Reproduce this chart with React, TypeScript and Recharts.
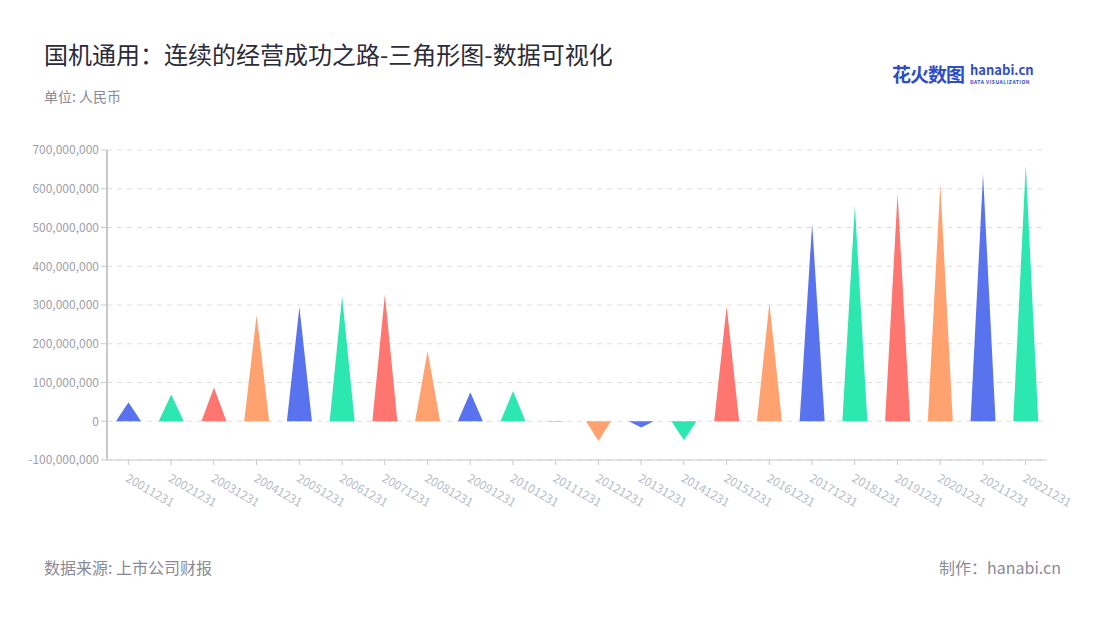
import { Bar, BarChart, CartesianGrid, Cell, XAxis, YAxis } from "recharts";

const years = [
  "20011231", "20021231", "20031231", "20041231", "20051231", "20061231",
  "20071231", "20081231", "20091231", "20101231", "20111231", "20121231",
  "20131231", "20141231", "20151231", "20161231", "20171231", "20181231",
  "20191231", "20201231", "20211231", "20221231",
];

const profit = [
  49000000, 69000000, 87000000, 275000000, 295000000, 322000000,
  327000000, 181000000, 75000000, 78000000, -1500000, -51000000,
  -16000000, -49000000, 297000000, 305000000, 510000000, 557000000,
  588000000, 612000000, 637000000, 661000000,
];

const yTicks = [-100000000, 0, 100000000, 200000000, 300000000, 400000000, 500000000, 600000000, 700000000];

const palette = ["#5973EE", "#2CE8B0", "#FF7670", "#FFA270"];

const data = years.map((d, i) => ({ d, v: profit[i] }));

const font = '"Noto Sans CJK SC", "Noto Sans", sans-serif';

const fmt = (n: number) => n.toLocaleString("en-US");

function Triangle(props: any) {
  const { x, y, width, height, fill, payload } = props;
  if (height == null || width == null) return null;
  const a = y;
  const b = y + height;
  const neg = payload && payload.v < 0;
  const tip = neg ? Math.max(a, b) : Math.min(a, b);
  const base = neg ? Math.min(a, b) : Math.max(a, b);
  return (
    <path
      d={`M${x},${base}L${x + width / 2},${tip}L${x + width},${base}Z`}
      fill={fill}
    />
  );
}

function XTick(props: any) {
  const { x, y, payload } = props;
  const tx = x + 2;
  const ty = y + 4;
  return (
    <text
      x={tx}
      y={ty}
      transform={`rotate(30, ${tx}, ${ty})`}
      textAnchor="start"
      dominantBaseline="hanging"
      fontSize={12}
      fill="#B8BCC8"
      fontFamily={font}
    >
      {payload.value}
    </text>
  );
}

export default function App() {
  return (
    <div
      style={{
        position: "absolute",
        left: 0,
        top: 0,
        width: 1100,
        height: 620,
        background: "#fff",
        fontFamily: font,
      }}
    >
      <div style={{ position: "absolute", left: 44, top: 37, fontSize: 24, lineHeight: "34px", color: "#2b2b3a", whiteSpace: "nowrap" }}>
        国机通用：连续的经营成功之路-三角形图-数据可视化
      </div>
      <div style={{ position: "absolute", left: 44, top: 86, fontSize: 14, color: "#8a8a96" }}>单位: 人民币</div>

      <div style={{ position: "absolute", left: 892, top: 60, display: "flex", alignItems: "center" }}>
        <span style={{ fontSize: 19, fontWeight: 700, color: "#2F4DC7", letterSpacing: -1 }}>花火数图</span>
        <span style={{ marginLeft: 6, display: "flex", flexDirection: "column" }}>
          <span style={{ fontSize: 13, fontWeight: 700, color: "#2F4DC7", lineHeight: "14px" }}>hanabi.cn</span>
          <span style={{ fontSize: 5, fontWeight: 700, color: "#2F4DC7", letterSpacing: 0.5, lineHeight: "7px", marginTop: 1 }}>
            DATA VISUALIZATION
          </span>
        </span>
      </div>

      <div style={{ position: "absolute", left: 0, top: 0 }}>
        <BarChart
          width={1100}
          height={620}
          data={data}
          margin={{ top: 150, right: 53, bottom: 130, left: 47 }}
          barSize={25}
        >
          <CartesianGrid vertical={false} strokeDasharray="5 5" stroke="#dedede" />
          <XAxis
            dataKey="d"
            interval={0}
            height={30}
            tick={<XTick />}
            axisLine={{ stroke: "#c8c8c8" }}
            tickLine={{ stroke: "#c8c8c8" }}
            tickSize={5}
          />
          <YAxis
            width={60}
            domain={[-100000000, 700000000]}
            ticks={yTicks}
            tickFormatter={fmt}
            tick={{ fontSize: 12, fill: "#a0a0a8", fontFamily: font }}
            axisLine={{ stroke: "#c8c8c8", strokeWidth: 2 }}
            tickLine={{ stroke: "#c8c8c8" }}
          />
          <Bar dataKey="v" shape={<Triangle />} isAnimationActive={false}>
            {data.map((_, i) => (
              <Cell key={i} fill={palette[i % 4]} />
            ))}
          </Bar>
        </BarChart>
      </div>

      <div style={{ position: "absolute", left: 44, top: 555, fontSize: 16, color: "#8a8a96" }}>数据来源: 上市公司财报</div>
      <div style={{ position: "absolute", right: 39, top: 555, fontSize: 16, color: "#8a8a96" }}>制作：hanabi.cn</div>
    </div>
  );
}
